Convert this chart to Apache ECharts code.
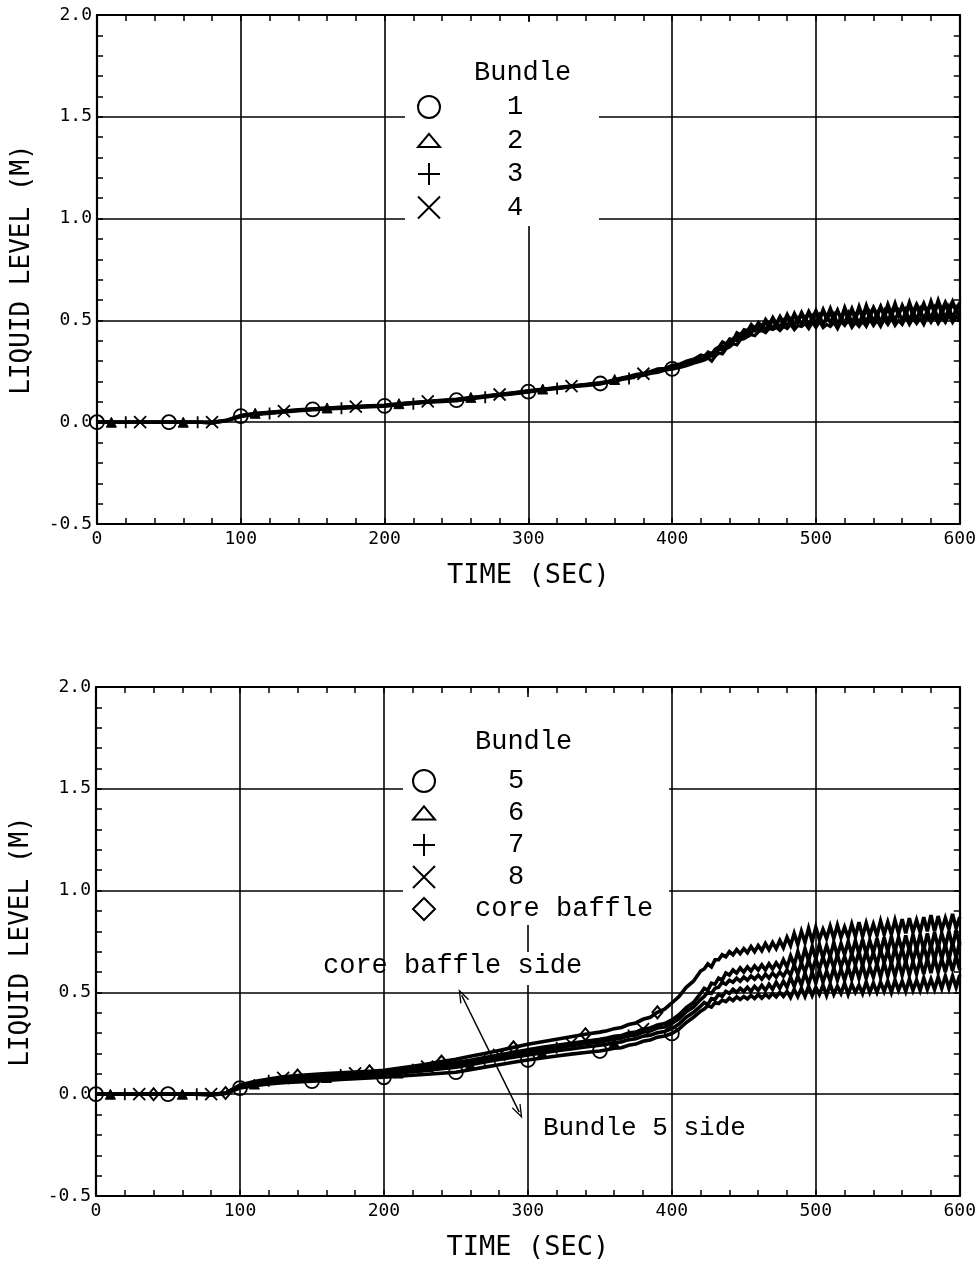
<!DOCTYPE html>
<html>
<head>
<meta charset="utf-8">
<script src="https://cdn.jsdelivr.net/npm/echarts@6/dist/echarts.min.js"></script>
<style>
  html, body { margin: 0; padding: 0; background: #fff; }
  #chart { width: 979px; height: 1262px; }
</style>
</head>
<body>
<div id="chart"></div>
<script>
// Sample times (s): 10 s steps to 350 s, 5 s steps to 420 s, 2.5 s steps to 600 s
const times = [0,10,20,30,40,50,60,70,80,90,100,110,120,130,140,150,160,170,180,190,200,210,220,230,240,250,260,270,280,290,300,310,320,330,340,350,
  355,360,365,370,375,380,385,390,395,400,405,410,415,420,
  422.5,425,427.5,430,432.5,435,437.5,440,442.5,445,447.5,450,452.5,455,457.5,460,462.5,465,467.5,470,472.5,475,477.5,480,
  482.5,485,487.5,490,492.5,495,497.5,500,502.5,505,507.5,510,512.5,515,517.5,520,522.5,525,527.5,530,532.5,535,537.5,540,
  542.5,545,547.5,550,552.5,555,557.5,560,562.5,565,567.5,570,572.5,575,577.5,580,582.5,585,587.5,590,592.5,595,597.5,600];

// Upper panel: liquid level (m) of bundles 1-4
const bundle1 = [0,0,0,0,0,0,0,0,-0.005,0.008,0.03,0.04,0.046,0.052,0.058,0.063,0.067,0.071,0.075,0.078,0.08,0.088,0.094,0.1,0.104,0.108,0.118,0.126,0.134,0.142,0.15,0.16,0.168,0.176,0.183,0.19,
  0.197,0.205,0.21,0.222,0.228,0.236,0.245,0.25,0.26,0.262,0.275,0.283,0.30,0.312,
  0.32,0.315,0.34,0.338, 0.36,0.352,0.385,0.38, 0.41,0.40,0.43,0.418, 0.45,0.435,0.465,0.448, 0.475,0.455,0.485,0.462, 0.49,0.468,0.50,0.472,
  0.505,0.475,0.51,0.48, 0.515,0.478,0.52,0.485, 0.525,0.48,0.52,0.49, 0.53,0.485,0.515,0.488, 0.535,0.49,0.525,0.485, 0.53,0.49,0.54,0.495,
  0.535,0.49,0.545,0.495, 0.54,0.50,0.545,0.495, 0.55,0.50,0.545,0.505, 0.555,0.505,0.55,0.51, 0.56,0.505,0.555,0.51, 0.565,0.51,0.56,0.515];
const bundle2 = [0,0,0,0,0,0,0,0,0,0.01,0.034,0.044,0.05,0.056,0.062,0.066,0.07,0.074,0.078,0.081,0.084,0.091,0.097,0.103,0.108,0.113,0.122,0.13,0.138,0.146,0.155,0.163,0.171,0.179,0.186,0.194,
  0.2,0.21,0.218,0.225,0.235,0.24,0.25,0.262,0.265,0.28,0.285,0.30,0.31,0.33,
  0.325,0.345,0.335,0.36, 0.37,0.395,0.385,0.41, 0.405,0.44,0.43,0.455, 0.45,0.48,0.46,0.49, 0.47,0.505,0.48,0.515, 0.485,0.52,0.49,0.53,
  0.495,0.535,0.50,0.54, 0.505,0.545,0.51,0.55, 0.51,0.555,0.515,0.56, 0.515,0.55,0.51,0.565, 0.52,0.56,0.515,0.57, 0.52,0.575,0.525,0.565,
  0.53,0.57,0.525,0.58, 0.535,0.585,0.53,0.575, 0.535,0.59,0.54,0.58, 0.545,0.585,0.54,0.595, 0.545,0.60,0.55,0.59, 0.555,0.595,0.55,0.585];
const bundle3 = [0,0,0,0,0,0,0,0,-0.004,0.006,0.027,0.037,0.043,0.049,0.055,0.06,0.064,0.068,0.072,0.075,0.078,0.085,0.091,0.097,0.101,0.105,0.115,0.123,0.131,0.139,0.147,0.157,0.165,0.173,0.18,0.187,
  0.195,0.2,0.21,0.215,0.225,0.23,0.24,0.245,0.255,0.26,0.268,0.278,0.29,0.30,
  0.305,0.315,0.30,0.325, 0.34,0.335,0.36,0.37, 0.385,0.38,0.405,0.41, 0.42,0.43,0.425,0.445, 0.45,0.44,0.46,0.455, 0.465,0.45,0.47,0.46,
  0.48,0.455,0.475,0.47, 0.485,0.46,0.49,0.465, 0.495,0.465,0.48,0.47, 0.49,0.46,0.495,0.475, 0.50,0.465,0.49,0.47, 0.495,0.47,0.505,0.475,
  0.50,0.47,0.505,0.48, 0.51,0.475,0.50,0.48, 0.515,0.48,0.51,0.485, 0.51,0.48,0.52,0.49, 0.52,0.485,0.515,0.49, 0.525,0.49,0.52,0.495];
const bundle4 = [0,0,0,0,0,0,0,0,0,0.009,0.032,0.042,0.048,0.054,0.06,0.065,0.069,0.073,0.077,0.08,0.083,0.09,0.096,0.102,0.106,0.111,0.12,0.128,0.136,0.144,0.153,0.161,0.169,0.177,0.185,0.192,
  0.2,0.203,0.215,0.218,0.23,0.238,0.242,0.255,0.258,0.27,0.28,0.29,0.305,0.32,
  0.315,0.33,0.325,0.35, 0.355,0.375,0.37,0.40, 0.395,0.425,0.415,0.445, 0.435,0.465,0.45,0.475, 0.46,0.49,0.47,0.50, 0.475,0.51,0.48,0.52,
  0.485,0.525,0.49,0.53, 0.495,0.535,0.50,0.54, 0.50,0.545,0.505,0.535, 0.505,0.55,0.50,0.545, 0.51,0.545,0.505,0.555, 0.51,0.55,0.515,0.56,
  0.515,0.565,0.52,0.555, 0.52,0.565,0.525,0.57, 0.525,0.575,0.52,0.57, 0.53,0.57,0.535,0.58, 0.535,0.585,0.53,0.575, 0.54,0.58,0.545,0.59];

// Lower panel: bundles 5-8 and the core baffle
const bundle5 = [0,0,0,0,0,0,0,0,-0.005,0.003,0.03,0.042,0.05,0.056,0.06,0.064,0.068,0.072,0.076,0.08,0.083,0.088,0.093,0.098,0.103,0.108,0.12,0.133,0.145,0.157,0.168,0.178,0.188,0.197,0.205,0.212,
  0.218,0.226,0.228,0.24,0.246,0.26,0.266,0.28,0.286,0.298,0.32,0.352,0.378,0.408,
  0.418,0.435,0.428,0.45, 0.445,0.462,0.455,0.472, 0.46,0.478,0.465,0.48, 0.468,0.485,0.47,0.49, 0.472,0.49,0.475,0.495, 0.478,0.50,0.48,0.505,
  0.475,0.515,0.48,0.52, 0.48,0.53,0.485,0.525, 0.49,0.535,0.485,0.54, 0.49,0.53,0.495,0.545, 0.49,0.54,0.50,0.535, 0.495,0.55,0.50,0.545,
  0.50,0.55,0.505,0.555, 0.50,0.56,0.51,0.555, 0.505,0.565,0.51,0.56, 0.51,0.57,0.515,0.565, 0.515,0.575,0.52,0.58, 0.52,0.58,0.525,0.585];
const bundle6 = [0,0,0,0,0,0,0,0,0,0.005,0.035,0.05,0.06,0.068,0.073,0.077,0.082,0.086,0.09,0.094,0.098,0.104,0.11,0.117,0.125,0.133,0.145,0.158,0.17,0.182,0.193,0.203,0.213,0.222,0.232,0.24,
  0.245,0.254,0.257,0.268,0.272,0.285,0.29,0.302,0.308,0.322,0.345,0.378,0.402,0.432,
  0.45,0.44,0.47,0.465, 0.49,0.48,0.505,0.495, 0.515,0.50,0.52,0.505, 0.525,0.505,0.53,0.51, 0.535,0.51,0.54,0.515, 0.55,0.52,0.555,0.525,
  0.575,0.53,0.58,0.535, 0.595,0.54,0.60,0.545, 0.61,0.55,0.605,0.555, 0.62,0.56,0.615,0.56, 0.625,0.565,0.63,0.57, 0.635,0.57,0.625,0.575,
  0.64,0.575,0.645,0.58, 0.645,0.58,0.65,0.585, 0.655,0.585,0.65,0.59, 0.66,0.59,0.665,0.595, 0.67,0.60,0.665,0.60, 0.675,0.605,0.68,0.61];
const bundle7 = [0,0,0,0,0,0,0,0,0,0.005,0.04,0.055,0.066,0.075,0.081,0.086,0.09,0.094,0.098,0.102,0.106,0.113,0.12,0.128,0.137,0.146,0.158,0.17,0.182,0.195,0.207,0.218,0.228,0.238,0.248,0.257,
  0.263,0.272,0.275,0.288,0.29,0.305,0.31,0.325,0.33,0.348,0.37,0.405,0.428,0.465,
  0.48,0.50,0.495,0.52, 0.525,0.55,0.54,0.56, 0.55,0.57,0.555,0.575, 0.56,0.58,0.565,0.585, 0.565,0.59,0.57,0.595, 0.575,0.60,0.58,0.61,
  0.585,0.635,0.59,0.645, 0.60,0.66,0.605,0.665, 0.615,0.675,0.62,0.68, 0.62,0.685,0.625,0.675, 0.625,0.69,0.635,0.70, 0.63,0.705,0.64,0.695,
  0.635,0.71,0.645,0.705, 0.64,0.72,0.65,0.715, 0.645,0.725,0.655,0.72, 0.65,0.73,0.66,0.735, 0.655,0.74,0.665,0.735, 0.66,0.745,0.67,0.75];
const bundle8 = [0,0,0,0,0,0,0,0,0,0.005,0.04,0.058,0.07,0.08,0.086,0.09,0.094,0.098,0.102,0.106,0.11,0.118,0.126,0.135,0.145,0.155,0.167,0.18,0.193,0.206,0.218,0.23,0.24,0.25,0.26,0.27,
  0.276,0.285,0.288,0.30,0.305,0.32,0.325,0.34,0.347,0.365,0.39,0.425,0.45,0.495,
  0.52,0.51,0.545,0.54, 0.57,0.56,0.595,0.585, 0.61,0.595,0.62,0.60, 0.625,0.605,0.63,0.61, 0.635,0.61,0.64,0.615, 0.645,0.62,0.66,0.625,
  0.68,0.635,0.70,0.645, 0.715,0.655,0.725,0.665, 0.735,0.67,0.73,0.675, 0.745,0.68,0.74,0.685, 0.75,0.685,0.755,0.69, 0.76,0.69,0.755,0.695,
  0.765,0.695,0.77,0.70, 0.775,0.70,0.77,0.705, 0.78,0.705,0.785,0.71, 0.785,0.71,0.79,0.715, 0.795,0.72,0.79,0.725, 0.80,0.725,0.805,0.73];
const coreBaffle = [0,0,0,0,0,0,0,0,0,0.006,0.045,0.062,0.075,0.085,0.092,0.097,0.101,0.105,0.109,0.113,0.118,0.127,0.137,0.148,0.16,0.172,0.186,0.20,0.215,0.23,0.245,0.258,0.27,0.282,0.294,0.305,
  0.312,0.322,0.328,0.342,0.35,0.368,0.378,0.402,0.418,0.448,0.48,0.525,0.555,0.605,
  0.615,0.64,0.625,0.66, 0.66,0.685,0.675,0.70, 0.685,0.71,0.69,0.715, 0.695,0.725,0.70,0.73, 0.705,0.74,0.71,0.745, 0.715,0.755,0.72,0.77,
  0.73,0.79,0.735,0.80, 0.745,0.815,0.75,0.82, 0.76,0.81,0.765,0.825, 0.765,0.83,0.77,0.82, 0.77,0.835,0.775,0.845, 0.775,0.84,0.78,0.835,
  0.78,0.85,0.785,0.845, 0.785,0.855,0.79,0.86, 0.79,0.865,0.795,0.855, 0.795,0.87,0.80,0.88, 0.80,0.875,0.805,0.865, 0.81,0.885,0.815,0.87];

const yTicks = ['-0.5', '0.0', '0.5', '1.0', '1.5', '2.0'];

[bundle1, bundle2, bundle3, bundle4, bundle5, bundle6, bundle7, bundle8, coreBaffle].forEach((a, k) => {
  if (a.length !== times.length) throw new Error('series ' + k + ' has ' + a.length + ' values, expected ' + times.length);
});

// Plotter-style marker shapes
const SYM = {
  circle: 'circle',
  triangle: 'triangle',
  plus: 'path://M0,5L10,5M5,0L5,10',
  cross: 'path://M0,0L10,10M10,0L0,10',
  diamond: 'diamond',
  triOutline: 'path://M5,0L10,6L0,6Z'
};

const MARK_PERIOD = 50;
const MARK_END = 400;

// Line data with a marker every 50 s, staggered per bundle
function lineData(vals, offset) {
  return times.map((t, i) => {
    const marked = t <= MARK_END && t >= offset && (t - offset) % MARK_PERIOD === 0;
    return marked ? [t, vals[i]] : { value: [t, vals[i]], symbol: 'none' };
  });
}

const hollow = { color: 'rgba(0,0,0,0)', borderColor: '#000', borderWidth: 1.8 };
const filled = { color: '#000', borderColor: '#000', borderWidth: 1 };

function mkSeries(name, vals, offset, grid, symbol, size, itemStyle, width) {
  return {
    name, type: 'line', xAxisIndex: grid * 2, yAxisIndex: grid * 2,
    data: lineData(vals, offset),
    symbol, symbolSize: size, showSymbol: true,
    itemStyle,
    lineStyle: { color: '#000', width, join: 'miter', miterLimit: 4 },
    silent: true, animation: false
  };
}

const axisFont = 'DejaVu Sans Mono';
const legendFont = 'Liberation Mono';

function xAxes(grid) {
  return [
    {
      type: 'value', gridIndex: grid, position: 'bottom', min: 0, max: 600, interval: 100,
      axisLine: { show: true, onZero: false, lineStyle: { color: '#000', width: 2.2 } },
      axisTick: { show: true, inside: true, length: 6, lineStyle: { color: '#000', width: 1.5 } },
      minorTick: { show: true, splitNumber: 5, length: 6, lineStyle: { color: '#000', width: 1.5 } },
      splitLine: { show: true, lineStyle: { color: '#000', width: 1.6 } },
      axisLabel: { color: '#000', fontFamily: axisFont, fontSize: 18, margin: 6 },
      name: 'TIME (SEC)', nameLocation: 'middle', nameGap: 38,
      nameTextStyle: { color: '#000', fontFamily: axisFont, fontSize: 27 }
    },
    {
      type: 'value', gridIndex: grid, position: 'top', min: 0, max: 600, interval: 100,
      axisLine: { show: true, onZero: false, lineStyle: { color: '#000', width: 2.2 } },
      axisTick: { show: true, inside: true, length: 6, lineStyle: { color: '#000', width: 1.5 } },
      minorTick: { show: true, splitNumber: 5, length: 6, lineStyle: { color: '#000', width: 1.5 } },
      splitLine: { show: false }, axisLabel: { show: false }
    }
  ];
}

function yAxes(grid) {
  return [
    {
      type: 'value', gridIndex: grid, position: 'left', min: -0.5, max: 2.0, interval: 0.5,
      axisLine: { show: true, onZero: false, lineStyle: { color: '#000', width: 2.2 } },
      axisTick: { show: true, inside: true, length: 6, lineStyle: { color: '#000', width: 1.5 } },
      minorTick: { show: true, splitNumber: 5, length: 6, lineStyle: { color: '#000', width: 1.5 } },
      splitLine: { show: true, lineStyle: { color: '#000', width: 1.6 } },
      axisLabel: {
        color: '#000', fontFamily: axisFont, fontSize: 18, margin: 5,
        formatter: v => yTicks[Math.round((v + 0.5) / 0.5)]
      },
      name: 'LIQUID LEVEL (M)', nameLocation: 'middle', nameGap: 62,
      nameTextStyle: { color: '#000', fontFamily: axisFont, fontSize: 26 }
    },
    {
      type: 'value', gridIndex: grid, position: 'right', min: -0.5, max: 2.0, interval: 0.5,
      axisLine: { show: true, onZero: false, lineStyle: { color: '#000', width: 2.2 } },
      axisTick: { show: true, inside: true, length: 6, lineStyle: { color: '#000', width: 1.5 } },
      minorTick: { show: true, splitNumber: 5, length: 6, lineStyle: { color: '#000', width: 1.5 } },
      splitLine: { show: false }, axisLabel: { show: false }
    }
  ];
}

const legendIconStyle = { color: 'rgba(0,0,0,0)', borderColor: '#000', borderWidth: 2 };
function legendItem(name, icon, padLeft) {
  return {
    name, icon, itemStyle: legendIconStyle,
    textStyle: { padding: [0, 0, 0, padLeft] }
  };
}
const legendText = { color: '#000', fontFamily: legendFont, fontSize: 27 };

const arrowHead = 'path://M0,10L5,0L10,10L8.6,10L5,2.8L1.4,10Z';

const coreSeries = mkSeries('core baffle', coreBaffle, 40, 1, SYM.diamond, [10, 12], { color: 'rgba(0,0,0,0)', borderColor: '#000', borderWidth: 2 }, 3.6);
coreSeries.markLine = {
  silent: true, animation: false,
  symbol: [arrowHead, arrowHead], symbolSize: [10, 14],
  lineStyle: { color: '#000', width: 1.5, type: 'solid' },
  label: { show: false },
  data: [[{ coord: [254, 0.486] }, { coord: [294, -0.088] }]]
};

const option = {
  backgroundColor: '#fff',
  animation: false,
  grid: [
    { left: 97, top: 15, width: 865, height: 509 },
    { left: 96, top: 687, width: 866, height: 509 }
  ],
  xAxis: [...xAxes(0), ...xAxes(1)],
  yAxis: [...yAxes(0), ...yAxes(1)],
  legend: [
    {
      orient: 'vertical', left: 417, top: 93.5, padding: 0, itemWidth: 22, itemHeight: 22, itemGap: 6.5,
      selectedMode: false, textStyle: legendText,
      data: [
        legendItem('1', SYM.circle, 62), legendItem('2', SYM.triOutline, 62),
        legendItem('3', SYM.plus, 62), legendItem('4', SYM.cross, 62)
      ]
    },
    {
      orient: 'vertical', left: 412, top: 767.5, padding: 0, itemWidth: 22, itemHeight: 22, itemGap: 5,
      selectedMode: false, textStyle: legendText,
      data: [
        legendItem('5', SYM.circle, 68), legendItem('6', SYM.triOutline, 68),
        legendItem('7', SYM.plus, 68), legendItem('8', SYM.cross, 68),
        legendItem('core baffle', 'diamond', 35)
      ]
    }
  ],
  series: [
    mkSeries('1', bundle1, 0, 0, SYM.circle, 14, hollow, 3.2),
    mkSeries('2', bundle2, 10, 0, SYM.triangle, 10, filled, 3.2),
    mkSeries('3', bundle3, 20, 0, SYM.plus, 12, hollow, 3.2),
    mkSeries('4', bundle4, 30, 0, SYM.cross, 12, hollow, 3.2),
    mkSeries('5', bundle5, 0, 1, SYM.circle, 14, hollow, 3.6),
    mkSeries('6', bundle6, 10, 1, SYM.triangle, 10, filled, 3.6),
    mkSeries('7', bundle7, 20, 1, SYM.plus, 12, hollow, 3.6),
    mkSeries('8', bundle8, 30, 1, SYM.cross, 12, hollow, 3.6),
    coreSeries
  ],
  graphic: [
    // white panels behind the legend blocks
    { type: 'rect', z: 1, silent: true, shape: { x: 405, y: 22, width: 194, height: 204 }, style: { fill: '#fff' } },
    { type: 'rect', z: 1, silent: true, shape: { x: 403, y: 697, width: 266, height: 228 }, style: { fill: '#fff' } },
    { type: 'rect', z: 1, silent: true, shape: { x: 403, y: 952, width: 266, height: 33 }, style: { fill: '#fff' } },
    { type: 'text', z: 6, silent: true, x: 474, y: 73,
      style: { text: 'Bundle', font: '27px "Liberation Mono"', fill: '#000', verticalAlign: 'middle' } },
    { type: 'text', z: 6, silent: true, x: 475, y: 742,
      style: { text: 'Bundle', font: '27px "Liberation Mono"', fill: '#000', verticalAlign: 'middle' } },
    { type: 'text', z: 6, silent: true, x: 323, y: 966,
      style: { text: 'core baffle side', font: '27px "Liberation Mono"', fill: '#000', verticalAlign: 'middle' } },
    { type: 'text', z: 6, silent: true, x: 543, y: 1128,
      style: { text: 'Bundle 5 side', font: '26px "Liberation Mono"', fill: '#000', verticalAlign: 'middle' } }
  ]
};

const chart = echarts.init(document.getElementById('chart'), null, { renderer: 'canvas' });
chart.setOption(option);
</script>
</body>
</html>
